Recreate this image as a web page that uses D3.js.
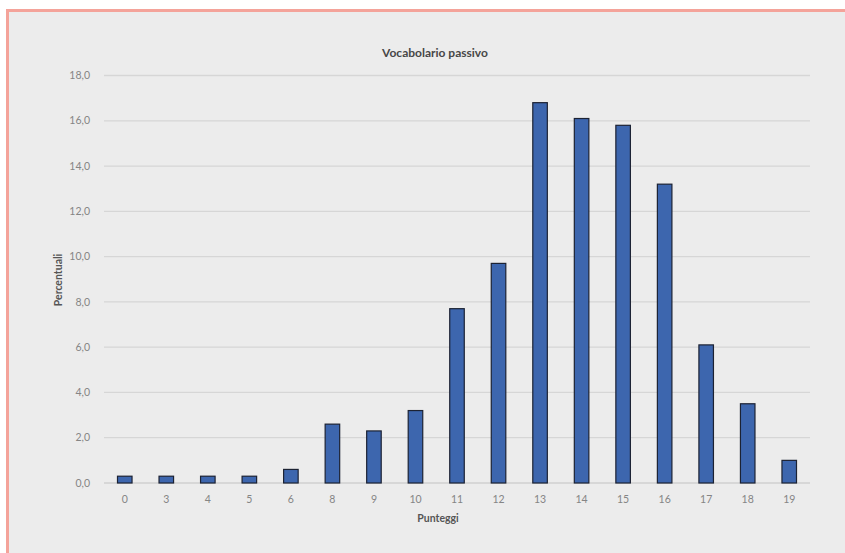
<!DOCTYPE html>
<html>
<head>
<meta charset="utf-8">
<script src="https://cdn.jsdelivr.net/npm/d3@7"></script>
<style>
  html, body { margin: 0; padding: 0; background: #fff; }
  svg { display: block; font-family: Lato, "Open Sans", sans-serif; }
</style>
</head>
<body>
<svg width="845" height="553" viewBox="0 0 845 553"></svg>
<script>
const categories = ['0', '3', '4', '5', '6', '8', '9', '10', '11', '12', '13', '14', '15', '16', '17', '18', '19']
const values = [0.3, 0.3, 0.3, 0.3, 0.6, 2.6, 2.3, 3.2, 7.7, 9.7, 16.8, 16.1, 15.8, 13.2, 6.1, 3.5, 1.0]
const yTicks = [0, 2, 4, 6, 8, 10, 12, 14, 16, 18]

const svg = d3.select('svg')
const fmt = (n) => d3.format('.1f')(n).replace('.', ',')

// panel background + salmon frame (top and left only)
svg.append('rect').attr('x', 6).attr('y', 9).attr('width', 839).attr('height', 544).attr('fill', '#ececec')
svg.append('rect').attr('x', 6).attr('y', 9).attr('width', 839).attr('height', 3).attr('fill', '#f4a39a')
svg.append('rect').attr('x', 6).attr('y', 9).attr('width', 3).attr('height', 544).attr('fill', '#f4a39a')

const margin = { top: 75.5, left: 104 }
const innerWidth = 810 - margin.left
const innerHeight = 483 - margin.top

const x = d3.scaleBand().domain(categories).range([0, innerWidth]).paddingInner(0.65).paddingOuter(0.325)
const y = d3.scaleLinear().domain([0, 18]).range([innerHeight, 0])

const g = svg.append('g').attr('transform', `translate(${margin.left},${margin.top})`)

// gridlines
g.selectAll('line.grid').data(yTicks).enter().append('line')
  .attr('class', 'grid')
  .attr('x1', 0).attr('x2', innerWidth)
  .attr('y1', d => y(d)).attr('y2', d => y(d))
  .attr('stroke', d => d === 0 ? '#d0d0d0' : '#d6d6d6').attr('stroke-width', 1.3)

// y labels
g.selectAll('text.ytick').data(yTicks).enter().append('text')
  .attr('class', 'ytick')
  .attr('x', -14).attr('y', d => y(d)).attr('dy', '0.35em')
  .attr('text-anchor', 'end').attr('fill', '#858585').attr('font-size', 10.5)
  .text(fmt)

// x labels
g.selectAll('text.xtick').data(categories).enter().append('text')
  .attr('class', 'xtick')
  .attr('x', d => x(d) + x.bandwidth() / 2).attr('y', innerHeight + 20)
  .attr('text-anchor', 'middle').attr('fill', '#858585').attr('font-size', 10.5)
  .text(d => d)

// bars
g.selectAll('rect.bar').data(values).enter().append('rect')
  .attr('class', 'bar')
  .attr('x', (d, i) => x(categories[i]))
  .attr('width', x.bandwidth())
  .attr('y', d => y(d))
  .attr('height', d => innerHeight - y(d))
  .attr('fill', '#3d66ae')
  .attr('stroke', '#1c2233')
  .attr('stroke-width', 1.2)

// titles
svg.append('text').attr('x', 435).attr('y', 57).attr('text-anchor', 'middle')
  .attr('font-size', 12).attr('font-weight', 'bold').attr('fill', '#474747').text('Vocabolario passivo')
svg.append('text').attr('x', 438).attr('y', 522).attr('text-anchor', 'middle')
  .attr('font-size', 10.5).attr('font-weight', 'bold').attr('fill', '#555').text('Punteggi')
svg.append('text').attr('transform', 'translate(62,280) rotate(-90)').attr('text-anchor', 'middle')
  .attr('font-size', 10.5).attr('font-weight', 'bold').attr('fill', '#555').text('Percentuali')
</script>
</body>
</html>
